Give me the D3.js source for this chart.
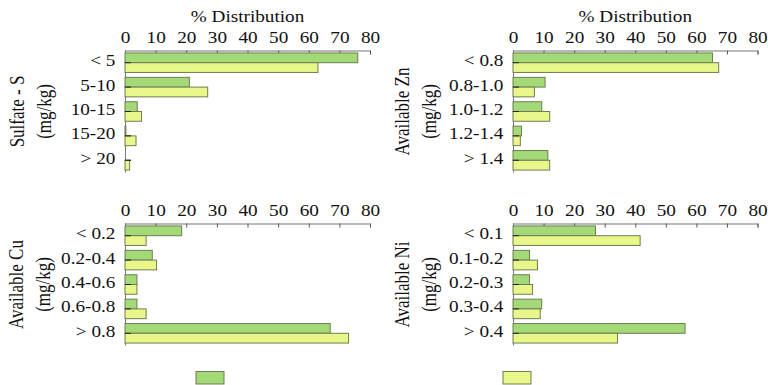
<!DOCTYPE html>
<html>
<head>
<meta charset="utf-8">
<script src="https://cdn.jsdelivr.net/npm/d3@7"></script>
<style>
  body { margin: 0; background: #fff; }
</style>
</head>
<body>
<div id="chart"></div>
<script>
// values (% distribution)
var ticks = [0, 10, 20, 30, 40, 50, 60, 70, 80]

var sCats = ["< 5", "5-10", "10-15", "15-20", "> 20"]
var sGreen = [76, 21, 4, 0.3, 0]
var sYellow = [63, 27, 5.4, 3.6, 1.5]

var znCats = ["< 0.8", "0.8-1.0", "1.0-1.2", "1.2-1.4", "> 1.4"]
var znGreen = [65.3, 10.5, 9.4, 2.8, 11.4]
var znYellow = [67.3, 7, 12, 2.4, 12]

var cuCats = ["< 0.2", "0.2-0.4", "0.4-0.6", "0.6-0.8", "> 0.8"]
var cuGreen = [18.5, 8.9, 3.9, 3.9, 67]
var cuYellow = [6.9, 10.3, 3.9, 6.9, 73]

var niCats = ["< 0.1", "0.1-0.2", "0.2-0.3", "0.3-0.4", "> 0.4"]
var niGreen = [27, 5.4, 5.4, 9.4, 56.3]
var niYellow = [41.6, 8, 6.4, 8.9, 34.2]

var green = "#a3d977"
var yellow = "#e8f68a"
var edge = "#6f7d55"
var serif = "'Liberation Serif', 'Times New Roman', 'DejaVu Serif', serif"
// the source picture is stretched sideways, so the type is too
var wide = 1.2

var svg = d3.select("#chart").append("svg")
    .attr("width", 768)
    .attr("height", 385)

function styleText(sel, size) {
    sel.attr("font-family", serif)
       .attr("font-size", size)
       .style("font-family", serif)
       .style("font-size", size + "px")
       .attr("fill", "#111")
}

function Panel(p) {
    var x = d3.scaleLinear().domain([0, 80]).range([p.x0, p.x1])
    var y = d3.scaleBand().domain(p.cats).range([p.y0, p.y1])
                .paddingInner(0.2).paddingOuter(0.1)
    var sub = d3.scaleBand().domain(["g", "y"]).range([0, y.bandwidth()])

    var g = svg.append("g")

    // top axis, ticks pointing inside
    var ax = g.append("g")
              .attr("transform", "translate(0," + p.y0 + ")")
              .call(d3.axisTop(x).tickValues(ticks).tickSize(-4).tickPadding(7.5))
    ax.select(".domain").attr("stroke", "#777")
    ax.selectAll(".tick line").attr("stroke", "#555")
    styleText(ax.selectAll("text"), 16)
    ax.selectAll("text").attr("transform", "scale(" + wide + ",1)")

    // left axis
    var ay = g.append("g")
              .attr("transform", "translate(" + p.x0 + ",0)")
              .call(d3.axisLeft(y).tickSize(-6).tickPadding(8))
    ay.select(".domain").attr("stroke", "#777")
      .attr("d", "M0.5," + p.y0 + "V" + p.y1)
    ay.selectAll(".tick line").attr("stroke", "#222")
    styleText(ay.selectAll("text"), 16)
    ay.selectAll("text").attr("transform", "scale(" + wide + ",1)")
      .attr("dy", "0.22em")

    var rows = p.cats.map(function (c, i) {
        return { cat: c, g: p.green[i], y: p.yellow[i] }
    })

    var grp = g.selectAll(".row").data(rows).enter().append("g")
               .attr("transform", function (d) { return "translate(0," + y(d.cat) + ")" })

    grp.append("rect")
       .attr("x", p.x0)
       .attr("y", sub("g"))
       .attr("width", function (d) { return x(d.g) - p.x0 })
       .attr("height", sub.bandwidth())
       .attr("fill", green).attr("stroke", edge).attr("stroke-width", 1)

    grp.append("rect")
       .attr("x", p.x0)
       .attr("y", sub("y"))
       .attr("width", function (d) { return x(d.y) - p.x0 })
       .attr("height", sub.bandwidth())
       .attr("fill", yellow).attr("stroke", edge).attr("stroke-width", 1)

    // redraw category ticks over bars
    g.selectAll(".ctick").data(p.cats).enter().append("line")
     .attr("x1", p.x0).attr("x2", p.x0 + 6)
     .attr("y1", function (d) { return y(d) + y.bandwidth() / 2 })
     .attr("y2", function (d) { return y(d) + y.bandwidth() / 2 })
     .attr("stroke", "#222")

    if (p.top) {
        var h = g.append("text")
                 .attr("transform", "translate(" + (p.x0 + p.x1) / 2 + "," + (p.y0 - 29) + ") scale(" + wide + ",1)")
                 .attr("text-anchor", "middle")
                 .text("% Distribution")
        styleText(h, 16)
    }

    var t = g.append("text")
             .attr("transform", "translate(" + p.tx + "," + (p.y0 + p.y1) / 2 + ") rotate(-90) scale(1," + wide + ")")
             .attr("text-anchor", "middle")
    styleText(t, 17)
    t.append("tspan").attr("x", 0).attr("dy", "0.35em").text(p.title)
    t.append("tspan").attr("x", 0).attr("dy", "1.3em").text("(mg/kg)")
}

Panel({ cats: sCats, green: sGreen, yellow: sYellow, x0: 125, x1: 370, y0: 50.5, y1: 172.5, top: true, title: "Sulfate - S", tx: 17 })
Panel({ cats: znCats, green: znGreen, yellow: znYellow, x0: 513, x1: 757.5, y0: 50.5, y1: 172.5, top: true, title: "Available Zn", tx: 402 })
Panel({ cats: cuCats, green: cuGreen, yellow: cuYellow, x0: 125, x1: 370, y0: 223.5, y1: 345.5, top: false, title: "Available Cu", tx: 16 })
Panel({ cats: niCats, green: niGreen, yellow: niYellow, x0: 513, x1: 757.5, y0: 223.5, y1: 345.5, top: false, title: "Available Ni", tx: 402 })

// legend swatches (labels are cut off in the source)
var legend = [{ c: green, x: 196 }, { c: yellow, x: 503 }]
svg.selectAll(".legend").data(legend).enter().append("rect")
   .attr("x", function (d) { return d.x })
   .attr("y", 371.5)
   .attr("width", 28)
   .attr("height", 12.5)
   .attr("fill", function (d) { return d.c })
   .attr("stroke", edge)
</script>
</body>
</html>
